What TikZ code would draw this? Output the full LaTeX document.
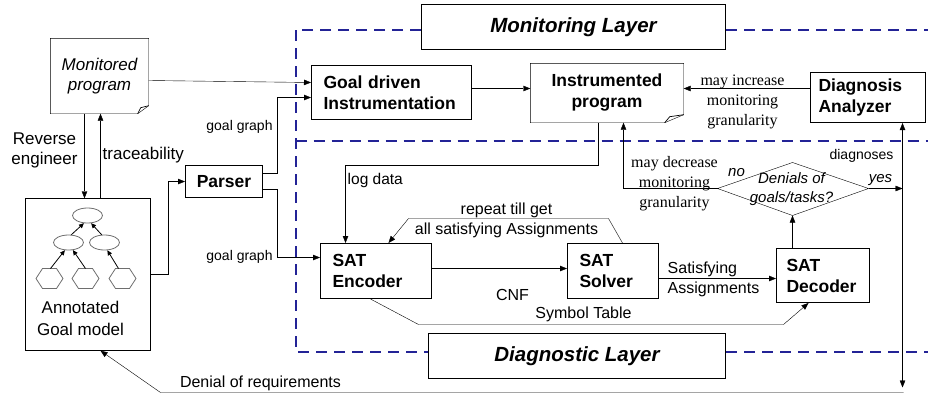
\documentclass[tikz,border=0pt]{standalone}
\usepackage{fontspec}
\setmainfont{Liberation Sans}
\newfontfamily\serifc{Liberation Serif}
\usetikzlibrary{arrows.meta,calc,shapes.geometric}
\definecolor{layerblue}{RGB}{35,35,150}
\definecolor{hiergray}{RGB}{110,110,110}
\pgfdeclarelayer{bg}
\pgfsetlayers{bg,main}
\begin{document}
\begin{tikzpicture}[x=1pt,y=-1pt,
  line width=1pt,
  >={Triangle[length=7pt,width=5.5pt]},
  box/.style={draw, fill=white, line width=1pt, inner ysep=0pt,
    font=\fontsize{17.5}{21}\selectfont\bfseries, align=left},
  docbox/.style={draw=none, inner sep=0pt, align=center},
  layerbox/.style={draw, fill=white, line width=1pt, inner sep=0pt,
    font=\fontsize{20.5}{24}\selectfont\bfseries\itshape},
  layer/.style={draw=layerblue, line width=2pt, dash pattern=on 11pt off 7pt},
  lbl/.style={inner sep=0pt, font=\fontsize{16}{20}\selectfont, align=center},
  slbl/.style={inner sep=0pt, font=\serifc\fontsize{16}{20}\selectfont, align=center},
  ell/.style={ellipse, draw=hiergray, line width=0.8pt, minimum width=30pt, minimum height=15pt, inner sep=0pt},
  hexs/.style={draw=hiergray, line width=0.8pt},
  sm/.style={-{Triangle[length=5pt,width=4.5pt]}, line width=0.8pt}
]
\useasboundingbox (-0.5,-0.5) rectangle (927.5,398.5);

% ---- layer regions
\node[layerbox, minimum width=304pt, minimum height=45pt] (ML) at (573,26.5) {Monitoring Layer};
\node[layerbox, minimum width=297pt, minimum height=45pt] (DL) at (576.5,355.5) {Diagnostic Layer};
\begin{pgfonlayer}{bg}
\draw[layer] (ML.west |- 0,29) -- (295,29) -- (295,351) -- (DL.west |- 0,351);
\draw[layer] (ML.east |- 0,29) -- (928,29);
\draw[layer] (295,140) -- (928,140);
\draw[layer] (DL.east |- 0,351) -- (928,351);
\end{pgfonlayer}

% ---- monitored program (document)
\node[docbox, minimum width=98pt, minimum height=75pt, font=\fontsize{17}{20}\selectfont\itshape] (MP) at (99,75.5) {Monitored\\program};
\draw (MP.north west) -- (MP.north east) -- ($(MP.south east)+(0,-8)$) -- ($(MP.south east)+(-11,0)$) -- (MP.south west) -- cycle;
\draw[line width=0.7pt] ($(MP.south east)+(-11,0)$) -- ($(MP.south east)+(-8,-6)$) -- ($(MP.south east)+(0,-8)$);

% ---- annotated goal model
\node[draw, minimum width=125pt, minimum height=152pt, inner sep=0pt] (GM) at (87.5,274) {};
\node[lbl, font=\fontsize{17}{22}\selectfont] (GMt) at (80,318) {Annotated\\Goal model};
\node[ell] (E0) at (87,215) {};
\node[ell] (E1) at (68,242) {};
\node[ell] (E2) at (104,242) {};
\coordinate (H1) at (49,278);
\coordinate (H2) at (85,278);
\coordinate (H3) at (122,278);
\foreach \h in {H1,H2,H3}{
  \draw[hexs] (\h) +(-13.5,0) -- +(-7,-10) -- +(7,-10) -- +(13.5,0) -- +(7,10) -- +(-7,10) -- cycle;
}
\draw[sm] ($(H1)+(1,-10)$) -- (E1.245);
\draw[sm] ($(H2)+(0,-10)$) -- (E1.300);
\draw[sm] ($(H3)+(-4,-10)$) -- (E2.290);
\draw[sm] (E1.70) -- (E0.245);
\draw[sm] (E2.110) -- (E0.295);

% ---- parser
\node[box, align=center, minimum width=77pt, minimum height=32pt, inner xsep=0pt] (PA) at (223.5,181) {Parser};

% ---- monitoring layer boxes
\node[box, minimum width=160pt, minimum height=54pt, inner xsep=12pt, text width=136pt] (GD) at (391,92) {Goal driven\\Instrumentation};
\node[docbox, minimum width=153pt, minimum height=59pt, font=\fontsize{17.5}{21}\selectfont\bfseries] (IP) at (606.5,92.5) {Instrumented\\program};
\draw (IP.north west) -- (IP.north east) -- ($(IP.south east)+(0,-8)$) -- ($(IP.south east)+(-19,0)$) -- (IP.south west) -- cycle;
\draw[line width=0.7pt] ($(IP.south east)+(-19,0)$) -- ($(IP.south east)+(-14,-6)$) -- ($(IP.south east)+(0,-8)$);
\node[box, minimum width=115pt, minimum height=50pt, inner xsep=8pt, text width=99pt] (DA) at (867.5,97) {Diagnosis\\Analyzer};

% ---- diagnostic layer boxes
\node[box, minimum width=111pt, minimum height=55pt, inner xsep=12pt, text width=87pt] (SE) at (375.5,270.5) {SAT\\Encoder};
\node[box, minimum width=91pt, minimum height=55pt, inner xsep=12pt, text width=67pt] (SS) at (612.5,270.5) {SAT\\Solver};
\node[box, minimum width=93pt, minimum height=54pt, inner xsep=10pt, text width=73pt] (SD) at (822.5,275) {SAT\\Decoder};

% ---- decision diamond
\coordinate (DW) at (717,188);
\coordinate (DN) at (792,162);
\coordinate (DE) at (868,188);
\coordinate (DS) at (792,215);
\draw (DW) -- (DN) -- (DE) -- (DS) -- cycle;
\node[lbl, font=\fontsize{15}{19}\selectfont\itshape] (DT) at (791,189) {Denials of\\goals/tasks?};

% ---- connectors
\draw[->] (MP.east |- 0,80) -- (GD.west |- 0,82);
\draw[->] (PA.east |- 0,173) -- (277,173) -- (277,97) -- (GD.west |- 0,97);
\draw[->] (PA.east |- 0,189) -- (277,189) -- (277,257) -- (SE.west |- 0,257);
\draw[->] (GM.east |- 0,274) -- (168,274) -- (168,181) -- (PA.west);
\draw[->] (MP.south -| 84,0) -- (GM.north -| 84,0);
\draw[->] (GM.north -| 100,0) -- (MP.south -| 100,0);
\draw[->] (GD.east |- 0,88) -- (IP.west |- 0,88);
\draw[->] (DA.west |- 0,88) -- (IP.east |- 0,88);
\draw[->] (IP.south -| 598,0) -- (598,165) -- (345,165) -- (SE.north -| 345,0);
\draw[->] (DW) -- (623,188) -- (IP.south -| 623,0);
\draw[->] (DE) -- (902,188);
\draw[->] (SD.north -| 792,0) -- (DS);
\draw[<->] (DA.south -| 902,0) -- (902,387);
\draw[->] (903,392) -- (160,392) -- (GM.south -| 100,0);
\draw[->] (SE.east |- 0,268) -- (SS.west |- 0,268);
\draw[->] (SS.east |- 0,278) -- (SD.west |- 0,278);
\draw[->] (SS.north -| 622,0) -- (608,218) -- (408,218) -- (SE.north -| 388,0);
\draw[->] (SE.south -| 370,0) -- (418,324) -- (783,324) -- (SD.south -| 808,0);

% ---- labels
\node[lbl, font=\fontsize{17}{20}\selectfont] (lre) at (44,150) {Reverse\\engineer};
\node[lbl, font=\fontsize{17}{20}\selectfont, anchor=west] (ltr) at (102,155) {traceability};
\node[lbl, font=\fontsize{14}{17}\selectfont] (lgg1) at (239,126) {goal graph};
\node[lbl, font=\fontsize{14}{17}\selectfont] (lgg2) at (239,256) {goal graph};
\node[lbl, font=\fontsize{15.5}{18}\selectfont, anchor=west] (lld) at (347,180) {log data};
\node[lbl] (lrep) at (506,220) {repeat till get\\all satisfying Assignments};
\node[lbl] (lcnf) at (512,294) {CNF};
\node[lbl] (lsym) at (583,314) {Symbol Table};
\node[lbl, align=left, anchor=west] (lsat) at (667,279) {Satisfying\\Assignments};
\node[lbl, font=\fontsize{15}{18}\selectfont\itshape] (lno) at (736,172) {no};
\node[lbl, font=\fontsize{15}{18}\selectfont\itshape] (lyes) at (880,180) {yes};
\node[lbl, font=\fontsize{14}{17}\selectfont] (ldg) at (861,155) {diagnoses};
\node[slbl] (ldec) at (674,183) {may decrease\\monitoring\\granularity};
\node[slbl] (linc) at (742,101) {may increase\\monitoring\\granularity};
\node[lbl] (lden) at (260,383) {Denial of requirements};
\end{tikzpicture}
\end{document}
